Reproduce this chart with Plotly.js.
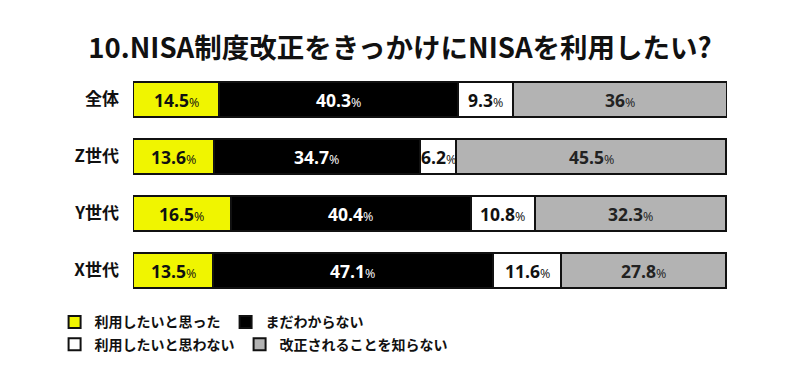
<!DOCTYPE html>
<html>
<head>
<meta charset="utf-8">
<script src="https://cdn.plot.ly/plotly-3.0.1.min.js"></script>
<style>html,body{margin:0;padding:0;background:#fff;}#chart{width:800px;height:392px;}</style>
</head>
<body>
<div id="chart"></div>
<script>
const categories = ["全体", "Z世代", "Y世代", "X世代"];
const seriesNames = ["利用したいと思った", "まだわからない", "利用したいと思わない", "改正されることを知らない"];
const wantToUse = [14.5, 13.6, 16.5, 13.5];
const undecided = [40.3, 34.7, 40.4, 47.1];
const notWant = [9.3, 6.2, 10.8, 11.6];
const unaware = [36, 45.5, 32.3, 27.8];

const seriesValues = [wantToUse, undecided, notWant, unaware];
const fills = ["#f0f500", "#000000", "#ffffff", "#b3b3b3"];
const textColors = ["#111111", "#ffffff", "#111111", "#222222"];
const legendIds = ["legend", "legend", "legend2", "legend2"];

const traces = seriesValues.map((vals, i) => ({
  type: "bar",
  orientation: "h",
  name: seriesNames[i],
  y: categories,
  x: vals,
  marker: {color: fills[i], line: {color: "#111111", width: 2}},
  legend: legendIds[i],
  hoverinfo: "skip"
}));

const annotations = [];
categories.forEach((cat, ci) => {
  let start = 0;
  seriesValues.forEach((vals, si) => {
    const v = vals[ci];
    annotations.push({
      x: start + v / 2, y: cat, xref: "x", yref: "y",
      text: "<b>" + v + "</b><span style='font-size:12.5px'>%</span>",
      showarrow: false,
      font: {family: "'Open Sans', 'Noto Sans CJK JP', sans-serif", size: 17.5, color: textColors[si]}
    });
    start += v;
  });
});

const legendFont = {family: "'Noto Sans CJK JP', sans-serif", size: 14, color: "#111111", weight: "bold"};

const layout = {
  width: 800, height: 392,
  margin: {l: 133, r: 73, t: 71, b: 93},
  paper_bgcolor: "#ffffff", plot_bgcolor: "#ffffff",
  title: {
    text: "<b>10.NISA制度改正をきっかけにNISAを利用したい?</b>",
    font: {family: "'Noto Sans CJK JP', sans-serif", size: 27.5, color: "#111111"},
    x: 0.5, xanchor: "center", xref: "container", y: 0.877, yanchor: "middle", yref: "container"
  },
  barmode: "stack",
  bargap: 0.4,
  xaxis: {range: [0, 100.1], showgrid: false, zeroline: false, showticklabels: false, showline: false, fixedrange: true},
  yaxis: {
    categoryorder: "array", categoryarray: categories, autorange: "reversed",
    showgrid: false, zeroline: false, showline: false, ticks: "", ticklabelstandoff: 13,
    tickfont: {family: "'Noto Sans CJK JP', sans-serif", size: 17, color: "#111111", weight: "bold"}
  },
  showlegend: true,
  legend: {
    orientation: "h", x: -0.132, xanchor: "left", y: -0.032, yanchor: "top",
    font: legendFont, traceorder: "normal", itemclick: false, itemdoubleclick: false
  },
  legend2: {
    orientation: "h", x: -0.132, xanchor: "left", y: -0.13, yanchor: "top",
    font: legendFont, traceorder: "normal", itemclick: false, itemdoubleclick: false
  },
  annotations: annotations
};

Plotly.newPlot("chart", traces, layout, {displayModeBar: false, staticPlot: true});
</script>
</body>
</html>
